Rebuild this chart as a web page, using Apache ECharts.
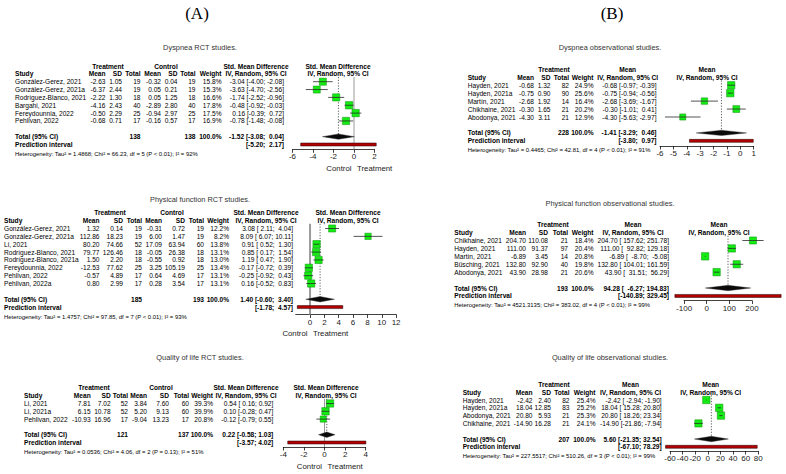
<!DOCTYPE html>
<html><head><meta charset="utf-8">
<script src="https://cdn.jsdelivr.net/npm/echarts@6/dist/echarts.min.js"></script>
<style>html,body{margin:0;padding:0;background:#fff}#c{width:786px;height:474px}</style>
</head><body><div id="c"></div>
<script>
// ================= DATA =================
// (A) Dyspnea RCT studies
const a1Studies = ['González-Gerez, 2021','González-Gerez, 2021a','Rodríguez-Blanco, 2021','Bargahi, 2021','Fereydounnia, 2022','Pehlivan, 2022'];
const a1TMean = [-2.63,-6.37,-2.22,-4.16,-0.50,-0.68];
const a1TSD = [1.05,2.44,1.30,2.43,2.29,0.71];
const a1TN = [19,19,18,40,25,17];
const a1CMean = [-0.32,0.05,0.05,-2.89,-0.94,-0.16];
const a1CSD = [0.04,0.21,1.25,2.80,2.97,0.57];
const a1CN = [19,19,18,40,25,17];
const a1Weight = [15.8,15.3,16.6,17.8,17.5,16.9];
const a1Est = [-3.04,-3.63,-1.74,-0.48,0.16,-0.78];
const a1Lo = [-4.00,-4.70,-2.52,-0.92,-0.39,-1.48];
const a1Hi = [-2.08,-2.56,-0.96,-0.03,0.72,-0.08];
const a1Totals = [138,138];
const a1Pooled = [-1.52,-3.08,0.04];
const a1Pred = [-5.20,2.17];
const a1Het = 'Heterogeneity: Tau² = 1.4868; Chi² = 66.23, df = 5 (P < 0.01); I² = 92%';
const a1Axis = [-6,2,2];

// (A) Physical function RCT studies
const a2Studies = ['González-Gerez, 2021','González-Gerez, 2021a','Li, 2021','Rodríguez-Blanco, 2021','Rodríguez-Blanco, 2021a','Fereydounnia, 2022','Pehlivan, 2022','Pehlivan, 2022a'];
const a2TMean = [1.32,112.86,80.20,79.77,1.50,-12.53,-0.57,0.80];
const a2TSD = [0.14,18.23,74.66,126.46,2.20,77.62,4.89,2.99];
const a2TN = [19,19,52,18,18,25,17,17];
const a2CMean = [-0.31,6.00,17.09,-0.05,-0.55,3.25,0.64,0.28];
const a2CSD = [0.72,1.47,63.94,26.38,0.92,105.19,4.69,3.54];
const a2CN = [19,19,60,18,18,25,17,17];
const a2Weight = [12.2,8.2,13.8,13.1,13.0,13.4,13.1,13.1];
const a2Est = [3.08,8.09,0.91,0.85,1.19,-0.17,-0.25,0.16];
const a2Lo = [2.11,6.07,0.52,0.17,0.47,-0.72,-0.92,-0.52];
const a2Hi = [4.04,10.11,1.30,1.54,1.90,0.39,0.43,0.83];
const a2Totals = [185,193];
const a2Pooled = [1.40,-0.60,3.40];
const a2Pred = [-1.78,4.57];
const a2Het = 'Heterogeneity: Tau² = 1.4757; Chi² = 97.85, df = 7 (P < 0.01); I² = 93%';
const a2Axis = [-2,12,2];

// (A) Quality of life RCT studies
const a3Studies = ['Li, 2021','Li, 2021a','Pehlivan, 2022'];
const a3TMean = [7.81,6.15,-10.93];
const a3TSD = [7.02,10.78,16.96];
const a3TN = [52,52,17];
const a3CMean = [3.84,5.20,-9.04];
const a3CSD = [7.60,9.13,13.23];
const a3CN = [60,60,17];
const a3Weight = [39.3,39.9,20.8];
const a3Est = [0.54,0.10,-0.12];
const a3Lo = [0.16,-0.28,-0.79];
const a3Hi = [0.92,0.47,0.55];
const a3Totals = [121,137];
const a3Pooled = [0.22,-0.58,1.03];
const a3Pred = [-3.57,4.02];
const a3Het = 'Heterogeneity: Tau² = 0.0536; Chi² = 4.06, df = 2 (P = 0.13); I² = 51%';
const a3Axis = [-4,4,2];

// (B) Dyspnea observational studies
const b1Studies = ['Hayden, 2021','Hayden, 2021a','Martín, 2021','Chikhaine, 2021','Abodonya, 2021'];
const b1Mean = [-0.68,-0.75,-2.68,-0.30,-4.30];
const b1SD = [1.32,0.90,1.92,1.65,3.11];
const b1N = [82,90,14,21,21];
const b1Weight = [24.9,25.6,16.4,20.2,12.9];
const b1Lo = [-0.97,-0.94,-3.69,-1.01,-5.63];
const b1Hi = [-0.39,-0.56,-1.67,0.41,-2.97];
const b1Totals = [228];
const b1Pooled = [-1.41,-3.29,0.46];
const b1Pred = [-3.80,0.97];
const b1Het = 'Heterogeneity: Tau² = 0.4465; Chi² = 42.81, df = 4 (P < 0.01); I² = 91%';
const b1Axis = [-6,1,1];

// (B) Physical function observational studies
const b2Studies = ['Chikhaine, 2021','Hayden, 2021','Martín, 2021','Büsching, 2021','Abodonya, 2021'];
const b2Mean = [204.70,111.00,-6.89,132.80,43.90];
const b2SD = [110.08,91.37,3.45,92.90,28.98];
const b2N = [21,97,14,40,21];
const b2Weight = [18.4,20.4,20.8,19.8,20.6];
const b2Lo = [157.62,92.82,-8.70,104.01,31.51];
const b2Hi = [251.78,129.18,-5.08,161.59,56.29];
const b2Totals = [193];
const b2Pooled = [94.28,-6.27,194.83];
const b2Pred = [-140.89,329.45];
const b2Het = 'Heterogeneity: Tau² = 4521.3135; Chi² = 383.02, df = 4 (P < 0.01); I² = 99%';
const b2Axis = [-100,200,100];

// (B) Quality of life observational studies
const b3Studies = ['Hayden, 2021','Hayden, 2021a','Abodonya, 2021','Chikhaine, 2021'];
const b3Mean = [-2.42,18.04,20.80,-14.90];
const b3SD = [2.40,12.85,5.93,16.28];
const b3N = [82,83,21,21];
const b3Weight = [25.4,25.2,25.3,24.1];
const b3Lo = [-2.94,15.28,18.26,-21.86];
const b3Hi = [-1.90,20.80,23.34,-7.94];
const b3Totals = [207];
const b3Pooled = [5.60,-21.35,32.54];
const b3Pred = [-67.10,78.29];
const b3Het = 'Heterogeneity: Tau² = 227.5517; Chi² = 510.26, df = 3 (P < 0.01); I² = 99%';
const b3Axis = [-60,80,20];

const titles = ['Dyspnea RCT studies.','Physical function RCT studies.','Quality of life RCT studies.',
                'Dyspnea observational studies.','Physical function observational studies.','Quality of life observational studies.'];

// ================= LAYOUT (pixels) =================
const FONT = '"Liberation Sans", Arial, Helvetica, sans-serif';
const FS = 6.6;
const layouts = [
  {left:292.5, right:374.5, row0:81.7, step:7.85, axisY:149.3, titleX:200, titleY:47,
   cols:[15,105.5,122,140.5,161,177.5,195.5,221.5,284], heads:[108,166,256,338], zeroW:1},
  {left:295.7, right:396.1, row0:228.5, step:7.86, axisY:314.5, titleX:200, titleY:199,
   cols:[4,99.5,123,142,162,185,204,229,293], heads:[110,172,266,348], zeroW:2, hideMin:true},
  {left:283.3, right:365.7, row0:403.5, step:7.8, axisY:447, titleX:200, titleY:357,
   cols:[24,90.7,110.7,128,147,169,189,213,273.3], heads:[94,161,246,326], zeroW:1},
  {left:660, right:753.7, row0:85.2, step:7.95, axisY:146, titleX:610, titleY:47,
   cols:[467.7,534,550.5,569,593.5,656.5], heads:[554,627.7,707]},
  {left:684.1, right:751.9, row0:240.5, step:7.92, axisY:300.5, titleX:610, titleY:203,
   cols:[454.3,526,548,568,593.5,669], heads:[553,633,719]},
  {left:670, right:758.3, row0:400, step:7.8, axisY:451, titleX:610, titleY:357,
   cols:[462.7,532.5,551,569.5,595.5,661.7], heads:[554,630.5,710.7]}
];

const panels = [
  {rct:true, studies:a1Studies, tMean:a1TMean, tSD:a1TSD, tN:a1TN, cMean:a1CMean, cSD:a1CSD, cN:a1CN, weight:a1Weight, est:a1Est, lo:a1Lo, hi:a1Hi, totals:a1Totals, pooled:a1Pooled, pred:a1Pred, het:a1Het, axis:a1Axis},
  {rct:true, studies:a2Studies, tMean:a2TMean, tSD:a2TSD, tN:a2TN, cMean:a2CMean, cSD:a2CSD, cN:a2CN, weight:a2Weight, est:a2Est, lo:a2Lo, hi:a2Hi, totals:a2Totals, pooled:a2Pooled, pred:a2Pred, het:a2Het, axis:a2Axis},
  {rct:true, studies:a3Studies, tMean:a3TMean, tSD:a3TSD, tN:a3TN, cMean:a3CMean, cSD:a3CSD, cN:a3CN, weight:a3Weight, est:a3Est, lo:a3Lo, hi:a3Hi, totals:a3Totals, pooled:a3Pooled, pred:a3Pred, het:a3Het, axis:a3Axis},
  {rct:false, studies:b1Studies, tMean:b1Mean, tSD:b1SD, tN:b1N, weight:b1Weight, est:b1Mean, lo:b1Lo, hi:b1Hi, totals:b1Totals, pooled:b1Pooled, pred:b1Pred, het:b1Het, axis:b1Axis},
  {rct:false, studies:b2Studies, tMean:b2Mean, tSD:b2SD, tN:b2N, weight:b2Weight, est:b2Mean, lo:b2Lo, hi:b2Hi, totals:b2Totals, pooled:b2Pooled, pred:b2Pred, het:b2Het, axis:b2Axis},
  {rct:false, studies:b3Studies, tMean:b3Mean, tSD:b3SD, tN:b3N, weight:b3Weight, est:b3Mean, lo:b3Lo, hi:b3Hi, totals:b3Totals, pooled:b3Pooled, pred:b3Pred, het:b3Het, axis:b3Axis}
];

// ================= BUILD =================
const f2 = v => v.toFixed(2);
function T(x, y, text, o) {
  o = o || {};
  return {type:'text', x:x, y:y, silent:true, z:50,
    style:{text:text, fontSize:o.fs||FS, fontFamily:o.ff||FONT, fontWeight:o.bold?'bold':'normal',
      fill:o.color||'#000', textAlign:o.align||'left', textVerticalAlign:'middle'}};
}

const grids=[], xAxes=[], yAxes=[], series=[], graphics=[];
graphics.push(T(197,13,'(A)',{fs:17,ff:'"Liberation Serif", "Times New Roman", serif',align:'center',color:'#000'}));
graphics.push(T(612,13,'(B)',{fs:17,ff:'"Liberation Serif", "Times New Roman", serif',align:'center',color:'#000'}));

panels.forEach((d, k) => {
  const L = layouts[k];
  const n = d.studies.length;
  const yMin = -0.6, yMax = (L.axisY - L.row0)/L.step;
  const top = L.row0 + yMin*L.step;
  grids.push({left:L.left, top:top, width:L.right-L.left, height:L.axisY-top});
  xAxes.push({type:'value', gridIndex:k, min:d.axis[0], max:d.axis[1], interval:d.axis[2],
    splitLine:{show:false},
    axisLine:{show:true, onZero:false, lineStyle:{color:'#111', width:0.8}},
    axisTick:{show:true, length:3.5, lineStyle:{color:'#111', width:0.8}},
    axisLabel:{fontSize:8, color:'#222', fontFamily:FONT, margin:3.5, showMinLabel:!L.hideMin}});
  yAxes.push({type:'value', gridIndex:k, inverse:true, min:yMin, max:yMax, show:false});

  const rowY = r => L.row0 + r*L.step;
  const totRow = n+1, predRow = n+2;

  if (d.rct) {
    series.push({type:'custom', xAxisIndex:k, yAxisIndex:k, clip:false, silent:true, z:1, data:[[0,0]],
      renderItem:(p, api) => { const cs=p.coordSys; const x=api.coord([api.value(0), 0])[0];
        return {type:'line', shape:{x1:x,y1:cs.y,x2:x,y2:cs.y+cs.height}, style:{stroke:'#9a9a9a', lineWidth:L.zeroW}}; }});
  }
  series.push({type:'custom', xAxisIndex:k, yAxisIndex:k, clip:false, silent:true, z:2, data:[[d.pooled[0], totRow]],
    renderItem:(p, api) => { const cs=p.coordSys; const pt=api.coord([api.value(0), api.value(1)]);
      return {type:'line', shape:{x1:pt[0],y1:cs.y,x2:pt[0],y2:pt[1]}, style:{stroke:'#333', lineWidth:0.8, lineDash:[1.2,1.6]}}; }});
  const wmax = Math.max.apply(null, d.weight);
  series.push({type:'scatter', xAxisIndex:k, yAxisIndex:k, clip:false, silent:true, z:3, symbol:'rect',
    itemStyle:{color:'#14ec14', borderColor:'#0b8f0b', borderWidth:0.5, opacity:1},
    data:d.est.map((e,i)=>({value:[e,i], symbolSize:4.8+2.6*d.weight[i]/wmax}))});
  series.push({type:'custom', xAxisIndex:k, yAxisIndex:k, clip:false, silent:true, z:4,
    data:d.lo.map((l,i)=>[l, d.hi[i], i]),
    renderItem:(p, api) => { const a=api.coord([api.value(0), api.value(2)]), b=api.coord([api.value(1), api.value(2)]);
      return {type:'line', shape:{x1:a[0],y1:a[1],x2:b[0],y2:b[1]}, style:{stroke:'#2a2a2a', lineWidth:0.8}}; }});
  series.push({type:'custom', xAxisIndex:k, yAxisIndex:k, clip:false, silent:true, z:5,
    data:[[d.pooled[1], d.pooled[0], d.pooled[2], totRow]],
    renderItem:(p, api) => { const r=api.value(3); const a=api.coord([api.value(0), r]), c=api.coord([api.value(1), r]), b=api.coord([api.value(2), r]);
      return {type:'polygon', shape:{points:[[a[0],a[1]],[c[0],c[1]-2.7],[b[0],b[1]],[c[0],c[1]+2.7]]}, style:{fill:'#0a0a0a', stroke:'#333', lineWidth:0.4}}; }});
  series.push({type:'custom', xAxisIndex:k, yAxisIndex:k, clip:false, silent:true, z:5,
    data:[[d.pred[0], d.pred[1], predRow]],
    renderItem:(p, api) => { const a=api.coord([api.value(0), api.value(2)]), b=api.coord([api.value(1), api.value(2)]);
      return {type:'rect', shape:{x:a[0], y:a[1]-1.5, width:b[0]-a[0], height:3}, style:{fill:'#b30000', stroke:'#1a0000', lineWidth:0.5}}; }});

  // ---- text ----
  graphics.push(T(L.titleX, L.titleY, titles[k], {fs:7.4, align:'center', color:'#333'}));
  const C = L.cols, H = L.heads;
  const padAll = (arr) => { const s=arr.map(f2); const w=Math.max.apply(null,s.map(x=>x.length)); return s.map(x=>x.padStart(w,' ')); };
  const loS = padAll(d.lo.concat([d.pooled[1], d.pred[0]]));
  const hiS = padAll(d.hi.concat([d.pooled[2], d.pred[1]]));
  const ciStr = i => f2(i<n?d.est[i]:d.pooled[0]) + ' [' + loS[i] + '; ' + hiS[i] + ']';
  const hb = {bold:true};
  const R = {align:'right'}, RB = {align:'right', bold:true}, CB = {align:'center', bold:true};
  const yh1 = rowY(-2), yh2 = rowY(-1);
  graphics.push(T(H[0], yh1, 'Treatment', CB));
  graphics.push(T(C[0], yh2, 'Study', hb));
  graphics.push(T(C[1], yh2, 'Mean', RB));
  graphics.push(T(C[2], yh2, 'SD', RB));
  graphics.push(T(C[3], yh2, 'Total', RB));
  let wi, cii, plotH;
  if (d.rct) {
    graphics.push(T(H[1], yh1, 'Control', CB));
    graphics.push(T(H[2], yh1, 'Std. Mean Difference', CB));
    graphics.push(T(H[3], yh1, 'Std. Mean Difference', CB));
    graphics.push(T(C[4], yh2, 'Mean', RB));
    graphics.push(T(C[5], yh2, 'SD', RB));
    graphics.push(T(C[6], yh2, 'Total', RB));
    wi = 7; cii = 8; plotH = H[3];
    graphics.push(T(H[2], yh2, 'IV, Random, 95% CI', CB));
  } else {
    graphics.push(T(H[1], yh1, 'Mean', CB));
    graphics.push(T(H[2], yh1, 'Mean', CB));
    wi = 4; cii = 5; plotH = H[2];
    graphics.push(T(H[1], yh2, 'IV, Random, 95% CI', CB));
  }
  graphics.push(T(C[wi], yh2, 'Weight', RB));
  graphics.push(T(plotH, yh2, 'IV, Random, 95% CI', CB));

  for (let i=0;i<n;i++){
    const y = rowY(i);
    graphics.push(T(C[0], y, d.studies[i]));
    graphics.push(T(C[1], y, f2(d.tMean[i]), R));
    graphics.push(T(C[2], y, f2(d.tSD[i]), R));
    graphics.push(T(C[3], y, String(d.tN[i]), R));
    if (d.rct) {
      graphics.push(T(C[4], y, f2(d.cMean[i]), R));
      graphics.push(T(C[5], y, f2(d.cSD[i]), R));
      graphics.push(T(C[6], y, String(d.cN[i]), R));
    }
    graphics.push(T(C[wi], y, d.weight[i].toFixed(1)+'%', R));
    graphics.push(T(C[cii], y, ciStr(i), R));
  }
  const yt = rowY(totRow), yp = rowY(predRow);
  graphics.push(T(C[0], yt, 'Total (95% CI)', hb));
  graphics.push(T(C[3], yt, String(d.totals[0]), RB));
  if (d.rct) graphics.push(T(C[6], yt, String(d.totals[1]), RB));
  graphics.push(T(C[wi], yt, '100.0%', RB));
  graphics.push(T(C[cii], yt, ciStr(n), RB));
  graphics.push(T(C[0], yp, 'Prediction interval', hb));
  graphics.push(T(C[cii], yp, '[' + loS[n+1] + '; ' + hiS[n+1] + ']', RB));
  graphics.push(T(C[0], rowY(n+3.2), d.het, {fs:5.9}));

  if (d.rct) {
    const x0 = L.left + (0 - d.axis[0])/(d.axis[1]-d.axis[0])*(L.right-L.left);
    graphics.push(T(x0-2.5, L.axisY+19, 'Control', {fs:7.8, align:'right', color:'#222'}));
    graphics.push(T(x0+3, L.axisY+19, 'Treatment', {fs:7.8, align:'left', color:'#222'}));
  }
});

const chart = echarts.init(document.getElementById('c'), null, {renderer:'svg'});
chart.setOption({
  animation:false, backgroundColor:'#fff',
  grid:grids, xAxis:xAxes, yAxis:yAxes, series:series, graphic:graphics
});
</script></body></html>
